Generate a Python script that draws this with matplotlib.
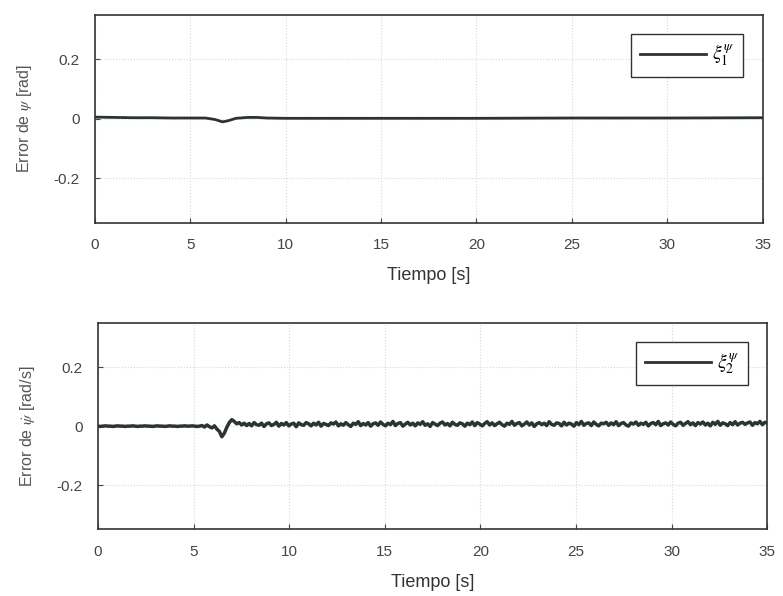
import numpy as np
import matplotlib.pyplot as plt

plt.rcParams['font.family'] = ['Liberation Sans', 'DejaVu Sans']
plt.rcParams['mathtext.fontset'] = 'stix'

# error of psi [rad], sparse samples
t1 = [0, 1, 2, 3, 4, 5, 5.8, 6.3, 6.7, 7.0, 7.4, 8.0, 8.5, 9.0, 10, 15, 20, 25, 30, 35]
y1 = [0.006, 0.005, 0.004, 0.004, 0.003, 0.003, 0.003, -0.002, -0.010, -0.006, 0.002,
      0.005, 0.005, 0.003, 0.002, 0.002, 0.002, 0.003, 0.003, 0.004]

# error of psi-dot [rad/s], evenly spaced samples over 0..35 s
y2 = [0.000, -0.001, 0.000, 0.001, 0.000, 0.000, -0.001, 0.000,
      0.001, 0.000, 0.000, -0.001, 0.000, 0.000, 0.001, 0.000, -0.001, 0.000,
      0.000, 0.001, 0.000, 0.000, -0.001, 0.000, 0.001, 0.000, 0.000, -0.001,
      0.000, 0.001, 0.000, 0.000, -0.001, 0.000, 0.000, 0.001, 0.000, 0.000,
      0.001, 0.000, -0.001, 0.000, 0.002, -0.003, 0.004, -0.002, -0.006, 0.001,
      -0.010, -0.018, -0.036, -0.024, -0.004, 0.012, 0.022, 0.016, 0.008, 0.012,
      0.004, 0.010, 0.002, 0.009, 0.001, 0.012, 0.005, 0.003, 0.010, -0.001,
      0.008, 0.011, 0.002, 0.006, 0.013, 0.000, 0.009, 0.004, 0.012, 0.001,
      0.007, 0.010, -0.002, 0.011, 0.005, 0.003, 0.012, 0.008, 0.001, 0.010,
      0.004, 0.013, 0.000, 0.009, 0.006, 0.002, 0.011, 0.007, 0.014, 0.001,
      0.008, 0.003, 0.012, 0.005, -0.001, 0.010, 0.006, 0.015, 0.002, 0.009,
      0.004, 0.012, 0.000, 0.008, 0.011, 0.003, 0.014, 0.006, 0.001, 0.010,
      0.005, 0.016, 0.002, 0.009, 0.012, 0.000, 0.007, 0.013, 0.004, 0.010,
      0.001, 0.011, 0.006, 0.015, 0.003, 0.008, -0.001, 0.012, 0.007, 0.002,
      0.010, 0.014, 0.004, 0.009, 0.001, 0.013, 0.006, 0.003, 0.011, 0.008,
      0.000, 0.010, 0.005, 0.014, 0.002, 0.012, 0.007, 0.001, 0.009, 0.015,
      0.004, 0.011, 0.002, 0.008, 0.013, 0.005, 0.000, 0.010, 0.006, 0.016,
      0.003, 0.009, 0.012, 0.001, 0.007, 0.014, 0.004, 0.011, -0.001, 0.008,
      0.012, 0.005, 0.010, 0.002, 0.015, 0.006, 0.003, 0.011, 0.009, 0.001,
      0.013, 0.004, 0.010, 0.007, 0.000, 0.012, 0.005, 0.016, 0.003, 0.009,
      0.011, 0.002, 0.014, 0.006, 0.001, 0.010, 0.008, 0.013, 0.003, 0.011,
      0.005, 0.015, 0.002, 0.009, 0.012, 0.004, 0.000, 0.011, 0.007, 0.014,
      0.003, 0.010, 0.006, 0.013, 0.001, 0.009, 0.012, 0.005, 0.016, 0.002,
      0.008, 0.011, 0.004, 0.014, 0.006, 0.001, 0.010, 0.013, 0.003, 0.009,
      0.015, 0.005, 0.011, 0.002, 0.012, 0.007, 0.014, 0.004, 0.010, 0.001,
      0.013, 0.006, 0.016, 0.003, 0.011, 0.008, 0.002, 0.012, 0.005, 0.015,
      0.004, 0.010, 0.013, 0.006, 0.011, 0.014, 0.003, 0.012, 0.008, 0.016,
      0.005, 0.013, 0.010]
t2 = np.linspace(0, 35, len(y2))

xticks = [0, 5, 10, 15, 20, 25, 30, 35]
yticks = [-0.2, 0, 0.2]
line_color = '#2b3431'

fig = plt.figure(figsize=(7.83, 5.96), dpi=100)
ax1 = fig.add_axes([0.121, 0.626, 0.853, 0.349])
ax2 = fig.add_axes([0.125, 0.112, 0.855, 0.346])

panels = [
    (ax1, t1, y1, 2.0, r'$\xi_1^{\psi}$', r'Error de $\psi$ [rad]'),
    (ax2, t2, y2, 2.5, r'$\xi_2^{\psi}$', r'Error de $\dot{\psi}$ [rad/s]'),
]

for ax, t, y, lw, lab, ylab in panels:
    ax.plot(t, y, color=line_color, lw=lw, label=lab)
    ax.set_xlim(0, 35)
    ax.set_ylim(-0.35, 0.35)
    ax.set_xticks(xticks)
    ax.set_yticks(yticks)
    ax.set_yticklabels(['-0.2', '0', '0.2'])
    ax.grid(True, color='#d8d8d8', linestyle=':', lw=0.8)
    ax.tick_params(direction='in', labelsize=11, colors='#444444', pad=11)
    for s in ax.spines.values():
        s.set_color('#333333')
        s.set_linewidth(1.2)
    ax.set_xlabel('Tiempo [s]', fontsize=13, color='#333333', labelpad=11)
    ax.set_ylabel(ylab, fontsize=11.5, color='#555555', labelpad=14)
    leg = ax.legend(loc='upper right', fontsize=14, fancybox=False, framealpha=1,
                    borderaxespad=1.0, handlelength=3.4, handletextpad=0.3,
                    borderpad=0.45)
    leg.get_frame().set_edgecolor('#333333')
    leg.get_frame().set_linewidth(1.0)
    leg.legend_handles[0].set_linewidth(2.0)

fig.savefig('out.png', dpi=100)
